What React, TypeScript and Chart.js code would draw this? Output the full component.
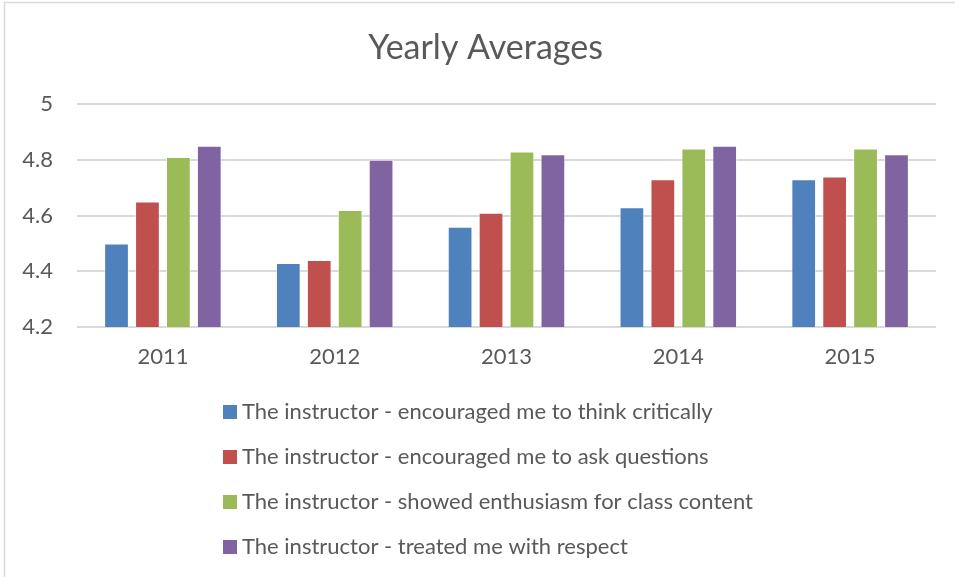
import React, { useEffect, useRef } from "react";
import { Chart, registerables } from "chart.js";

Chart.register(...registerables);

const chartTitle = "Yearly Averages";
const years = ["2011", "2012", "2013", "2014", "2015"];
const seriesNames = [
  "The instructor - encouraged me to think critically",
  "The instructor - encouraged me to ask questions",
  "The instructor - showed enthusiasm for class content",
  "The instructor - treated me with respect",
];
const thinkCritically = [4.5, 4.43, 4.56, 4.63, 4.73];
const askQuestions = [4.65, 4.44, 4.61, 4.73, 4.74];
const showedEnthusiasm = [4.81, 4.62, 4.83, 4.84, 4.84];
const treatedWithRespect = [4.85, 4.8, 4.82, 4.85, 4.82];
const seriesColors = ["#4F81BD", "#C0504D", "#9BBB59", "#8064A2"];
const yTicks = [4.2, 4.4, 4.6, 4.8, 5];

const FONT = "Lato";
const TEXT = "#595959";

const borderPlugin = {
  id: "frameBorder",
  beforeDraw(chart: any) {
    const ctx = chart.ctx;
    ctx.save();
    ctx.strokeStyle = "#d9d9d9";
    ctx.lineWidth = 1.5;
    ctx.beginPath();
    ctx.moveTo(4.5, chart.height);
    ctx.lineTo(4.5, 2.5);
    ctx.lineTo(chart.width, 2.5);
    ctx.stroke();
    ctx.restore();
  },
};

const titlePlugin = {
  id: "offsetTitle",
  afterDraw(chart: any) {
    const ctx = chart.ctx;
    ctx.save();
    ctx.font = `34px ${FONT}`;
    ctx.fillStyle = TEXT;
    ctx.textAlign = "center";
    ctx.textBaseline = "middle";
    ctx.fillText(chartTitle, chart.width / 2 + 8, 48);
    ctx.restore();
  },
};

const legendPlugin = {
  id: "stackedLegend",
  afterDraw(chart: any) {
    const ctx = chart.ctx;
    const size = 22;
    ctx.save();
    ctx.font = `${size}px ${FONT}`;
    ctx.textBaseline = "middle";
    const items = chart.data.datasets.map((d: any) => ({
      label: d.label as string,
      color: d.backgroundColor as string,
    }));
    const maxW = Math.max(...items.map((i: any) => ctx.measureText(i.label).width));
    const box = 14;
    const gap = 5;
    const blockW = box + gap + maxW;
    const x0 = Math.round(chart.width / 2 + 10 - blockW / 2);
    const yStart = chart.chartArea.bottom + 85;
    const step = 45;
    items.forEach((it: any, i: number) => {
      const y = yStart + i * step;
      ctx.fillStyle = it.color;
      ctx.fillRect(x0, y - box / 2, box, box);
      ctx.fillStyle = TEXT;
      ctx.fillText(it.label, x0 + box + gap, y);
    });
    ctx.restore();
  },
};

export default function App() {
  const ref = useRef<HTMLCanvasElement | null>(null);

  useEffect(() => {
    document.body.style.margin = "0";
    const canvas = ref.current;
    if (!canvas) return;
    const seriesData = [thinkCritically, askQuestions, showedEnthusiasm, treatedWithRespect];
    const chart = new Chart(canvas, {
      type: "bar",
      data: {
        labels: years,
        datasets: seriesData.map((d, i) => ({
          label: seriesNames[i],
          data: d,
          backgroundColor: seriesColors[i],
          borderColor: "rgba(255,255,255,0.6)",
          borderWidth: 1,
          categoryPercentage: 0.72,
          barPercentage: 0.8,
        })),
      },
      options: {
        responsive: false,
        animation: false,
        devicePixelRatio: 1,
        layout: { padding: { left: 0, right: 19, top: 104, bottom: 200 } },
        plugins: {
          legend: { display: false },
          tooltip: { enabled: false },
          title: { display: false },
        },
        scales: {
          x: {
            grid: { display: false, drawTicks: false },
            border: { display: false },
            ticks: { color: TEXT, font: { family: FONT, size: 22 }, padding: 17 },
            afterFit: (s: any) => {
              s.height = 50;
            },
          },
          y: {
            min: 4.2,
            max: 5,
            grid: { color: "#d9d9d9", lineWidth: 2, drawTicks: false },
            border: { display: false },
            ticks: {
              color: TEXT,
              font: { family: FONT, size: 22 },
              padding: 24,
              callback: (v: any) => String(+Number(v).toFixed(1)),
            },
            afterBuildTicks: (s: any) => {
              s.ticks = yTicks.map((v) => ({ value: v }));
            },
            afterFit: (s: any) => {
              s.width = 77;
            },
          },
        },
      },
      plugins: [borderPlugin, titlePlugin, legendPlugin],
    });
    return () => chart.destroy();
  }, []);

  return (
    <div style={{ width: 955, height: 577, position: "relative", background: "#fff" }}>
      <canvas ref={ref} width={955} height={577} style={{ display: "block", width: 955, height: 577 }} />
    </div>
  );
}
